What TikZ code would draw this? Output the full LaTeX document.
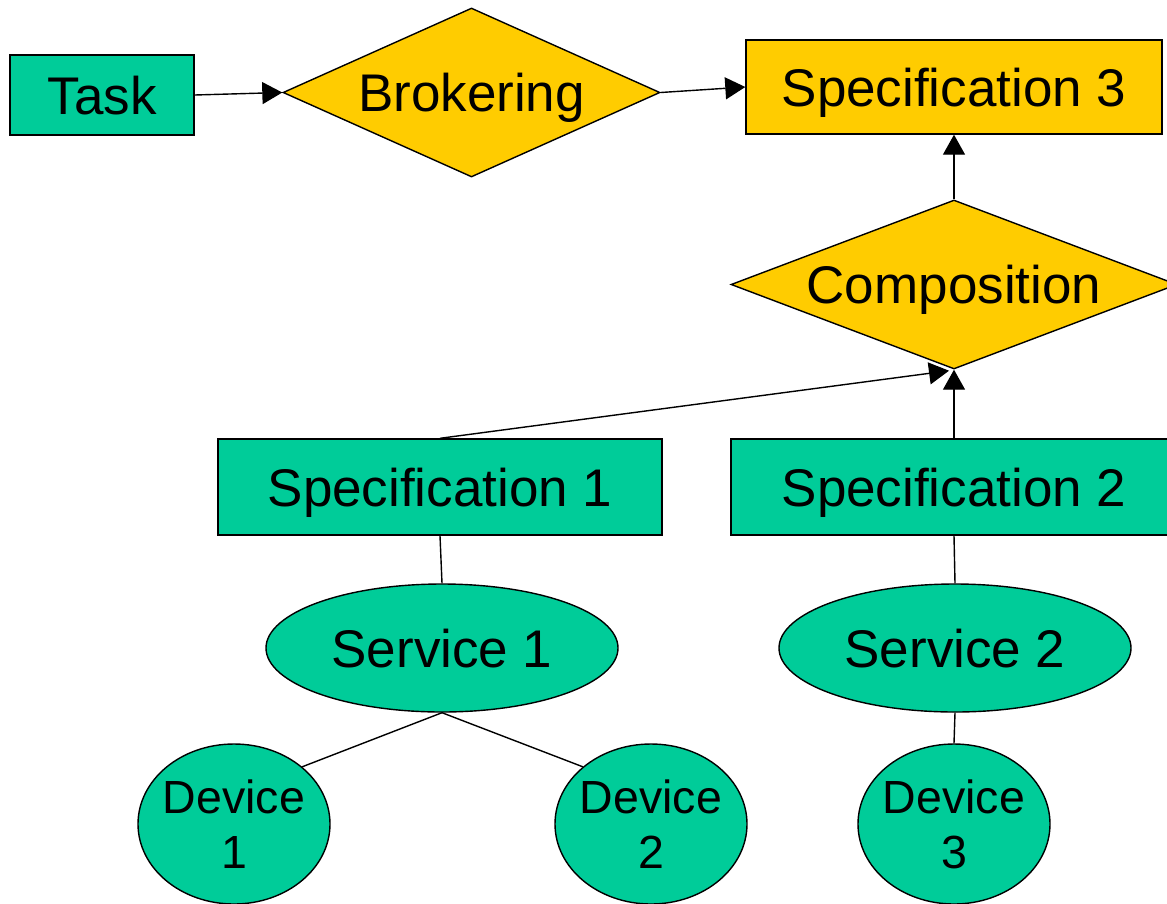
\documentclass[tikz,border=0pt]{standalone}
\usepackage{fontspec}
\setmainfont{Liberation Sans}
\usetikzlibrary{shapes.geometric,arrows.meta}
\definecolor{gr}{HTML}{00CC99}
\definecolor{yl}{HTML}{FFCC00}
\begin{document}
\begin{tikzpicture}[x=1pt,y=-1pt,
  base/.style={draw=black,line width=1.4pt,inner sep=0pt,text depth=0pt,font=\fontsize{53}{60}\selectfont},
  gbox/.style={base,rectangle,fill=gr},
  ybox/.style={base,rectangle,fill=yl},
  ydia/.style={base,diamond,fill=yl},
  gell/.style={base,ellipse,fill=gr,minimum width=352pt,minimum height=128pt},
  dev/.style={draw=black,line width=1.4pt,inner sep=0pt,ellipse,fill=gr,minimum width=192pt,minimum height=160pt,align=center,font=\fontsize{46.5}{55}\selectfont},
  conn/.style={line width=1.4pt},
  arr/.style={conn,-{Triangle[length=20pt,width=22pt]}}]
\useasboundingbox (0,0) rectangle (1167,903);
\begin{scope}
\clip (0,0) rectangle (1167,903);
\node[gbox,minimum width=184pt,minimum height=80pt] (task) at (102,95) {Task};
\node[ydia,minimum width=377pt,minimum height=169pt] (brok) at (471.5,92.5) {\makebox[0pt]{Brokering}};
\node[ybox,minimum width=416pt,minimum height=94pt] (spec3) at (954,87) {Specification 3};
\node[ydia,minimum width=446pt,minimum height=169pt] (comp) at (954,284.5) {\makebox[0pt]{Composition}};
\node[gbox,minimum width=444pt,minimum height=96pt] (spec1) at (440,487) {Specification 1};
\node[gbox,minimum width=446pt,minimum height=96pt] (spec2) at (954,487) {Specification 2};
\node[gell] (serv1) at (442,648) {Service 1};
\node[gell] (serv2) at (955,648) {Service 2};
\node[dev] (dev1) at (234,824) {\makebox[0pt]{Device}\\\makebox[0pt]{1}};
\node[dev] (dev2) at (651,824) {\makebox[0pt]{Device}\\\makebox[0pt]{2}};
\node[dev] (dev3) at (954,824) {\makebox[0pt]{Device}\\\makebox[0pt]{3}};
\end{scope}
\draw[arr] (task.east) -- (brok.west);
\draw[arr] (brok.east) -- (spec3.west);
\draw[arr] (comp.north) -- (spec3.south);
\draw[arr] (spec1.north) -- ([xshift=-5pt,yshift=-1pt]comp.south);
\draw[arr] (spec2.north) -- (comp.south);
\draw[conn] (spec1.south) -- (serv1.north);
\draw[conn] (spec2.south) -- (serv2.north);
\draw[conn] (serv1.south) -- (dev1.40);
\draw[conn] (serv1.south) -- (dev2.140);
\draw[conn] (serv2.south) -- (dev3.north);
\end{tikzpicture}
\end{document}
